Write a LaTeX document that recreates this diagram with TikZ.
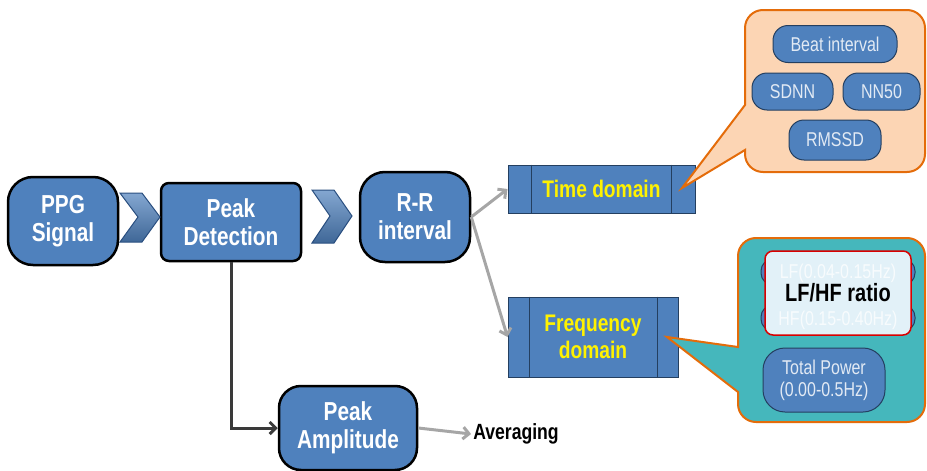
\documentclass[tikz,border=0pt]{standalone}
\usepackage{fontspec}
\setmainfont{Liberation Sans}
\newfontfamily\nf[FakeStretch=0.8]{Liberation Sans}
\usetikzlibrary{arrows.meta}
\definecolor{nodeblue}{HTML}{4F81BD}
\definecolor{navy}{HTML}{243F60}
\definecolor{pilltext}{HTML}{E2EAF4}
\definecolor{peach}{HTML}{FCD5B4}
\definecolor{orng}{HTML}{E46C0A}
\definecolor{teal2}{HTML}{45B7BC}
\definecolor{lightbox}{HTML}{E2F1F8}
\definecolor{arrgray}{HTML}{A6A6A6}
\definecolor{darkline}{HTML}{3A3A3A}
\definecolor{chevline}{HTML}{2A4F80}
\begin{document}
\begin{tikzpicture}[x=1pt,y=-1pt,
  mainnode/.style={draw=black, line width=2.5pt, fill=nodeblue, text=white,
    font=\nf\bfseries\fontsize{26}{28}\selectfont, align=center, inner sep=0pt},
  domainbox/.style={draw=navy, line width=1pt, fill=nodeblue, text=yellow,
    font=\nf\bfseries\fontsize{24}{27}\selectfont, align=center, inner sep=0pt},
  pill/.style={draw=navy, line width=1pt, fill=nodeblue, text=pilltext,
    rounded corners=15pt, font=\nf\fontsize{20}{22}\selectfont, align=center, inner sep=0pt},
  grayarrow/.style={draw=arrgray, line width=3pt, -{Straight Barb[length=6pt,width=12pt]}},
  darkarrow/.style={draw=darkline, line width=3pt, -{Straight Barb[length=6pt,width=12pt]}},
  chev/.style={top color=nodeblue!70!white, bottom color=nodeblue!80!black, draw=chevline, line width=1pt},
  calloutO/.style={fill=peach, draw=orng, line width=2pt},
  calloutT/.style={fill=teal2, draw=orng, line width=2pt}
]
\useasboundingbox (0,0) rectangle (927,471);

% main nodes
\node[mainnode, minimum width=110pt, minimum height=88pt, rounded corners=25pt] (ppg) at (63,221) {PPG\\Signal};
\node[mainnode, minimum width=140pt, minimum height=78pt, rounded corners=8pt] (pd) at (231,222) {Peak\\Detection};
\node[mainnode, minimum width=110pt, minimum height=90pt, rounded corners=25pt] (rr) at (415,217) {R-R\\interval};
\node[mainnode, minimum width=138pt, minimum height=84pt, rounded corners=22pt] (pa) at (348,428) {Peak\\Amplitude};

% chevrons
\draw[chev] (120,193) -- (142,193) -- (160,217) -- (142,242) -- (120,242) -- (138,217) -- cycle;
\draw[chev] (312,190) -- (334,190) -- (352,216) -- (334,243) -- (312,243) -- (330,216) -- cycle;

% domain boxes
\node[domainbox, minimum width=187pt, minimum height=48pt] (td) at (601.5,189) {Time domain};
\draw[navy, line width=1pt] ([xshift=24pt]td.north west) -- ([xshift=24pt]td.south west);
\draw[navy, line width=1pt] ([xshift=-24pt]td.north east) -- ([xshift=-24pt]td.south east);
\node[domainbox, minimum width=170pt, minimum height=80pt] (fd) at (593,337) {Frequency\\domain};
\draw[navy, line width=1pt] ([xshift=22pt]fd.north west) -- ([xshift=22pt]fd.south west);
\draw[navy, line width=1pt] ([xshift=-21pt]fd.north east) -- ([xshift=-21pt]fd.south east);

% connectors
\draw[grayarrow] (rr.east) -- (td.west);
\draw[grayarrow] (rr.east) -- (fd.west);
\draw[darkarrow] (pd.south) |- (pa.west);
\node[font=\nf\bfseries\fontsize{22}{24}\selectfont, text=black, inner sep=0pt] (avg) at (516,434) {Averaging};
\draw[grayarrow] (pa.east) -- ([xshift=-2pt]avg.west);

% orange callout
\draw[calloutO] (745,105) [rounded corners=18pt] -- (745,10) -- (925,10) -- (925,172) -- (745,172) [sharp corners] -- (745,150) -- (682,188) -- cycle;
\node[pill, minimum width=124pt, minimum height=37pt] (beat) at (835,44) {Beat interval};
\node[pill, minimum width=81pt, minimum height=37pt] (sdnn) at (792.5,91.5) {SDNN};
\node[pill, minimum width=77pt, minimum height=37pt] (nn50) at (881.5,91.5) {NN50};
\node[pill, minimum width=92pt, minimum height=40pt] (rmssd) at (835,140) {RMSSD};

% teal callout
\draw[calloutT] (738,347) [rounded corners=18pt] -- (738,238) -- (925,238) -- (925,422) -- (738,422) [sharp corners] -- (738,392) -- (667,337) -- cycle;
\node[pill, minimum width=154pt, minimum height=26pt, rounded corners=12pt] (lfpill) at (838,272) {};
\node[pill, minimum width=154pt, minimum height=26pt, rounded corners=12pt] (hfpill) at (838,318) {};
\node[draw=red!85!black, line width=1.5pt, fill=lightbox, rounded corners=8pt,
      minimum width=146pt, minimum height=84pt, inner sep=0pt] (ratio) at (838,293) {};
\node[text=white, opacity=0.75, font=\nf\fontsize{20}{22}\selectfont, inner sep=0pt] (lftext) at (838,273) {LF(0.04-0.15Hz)};
\node[text=white, opacity=0.75, font=\nf\fontsize{20}{22}\selectfont, inner sep=0pt] (hftext) at (838,320) {HF(0.15-0.40Hz)};
\node[text=black, font=\nf\bfseries\fontsize{25}{27}\selectfont, inner sep=0pt] (lfhf) at (838,293) {LF/HF ratio};
\node[pill, minimum width=122pt, minimum height=64pt, rounded corners=22pt] (tp) at (824,380) {Total Power\\(0.00-0.5Hz)};
\end{tikzpicture}
\end{document}
